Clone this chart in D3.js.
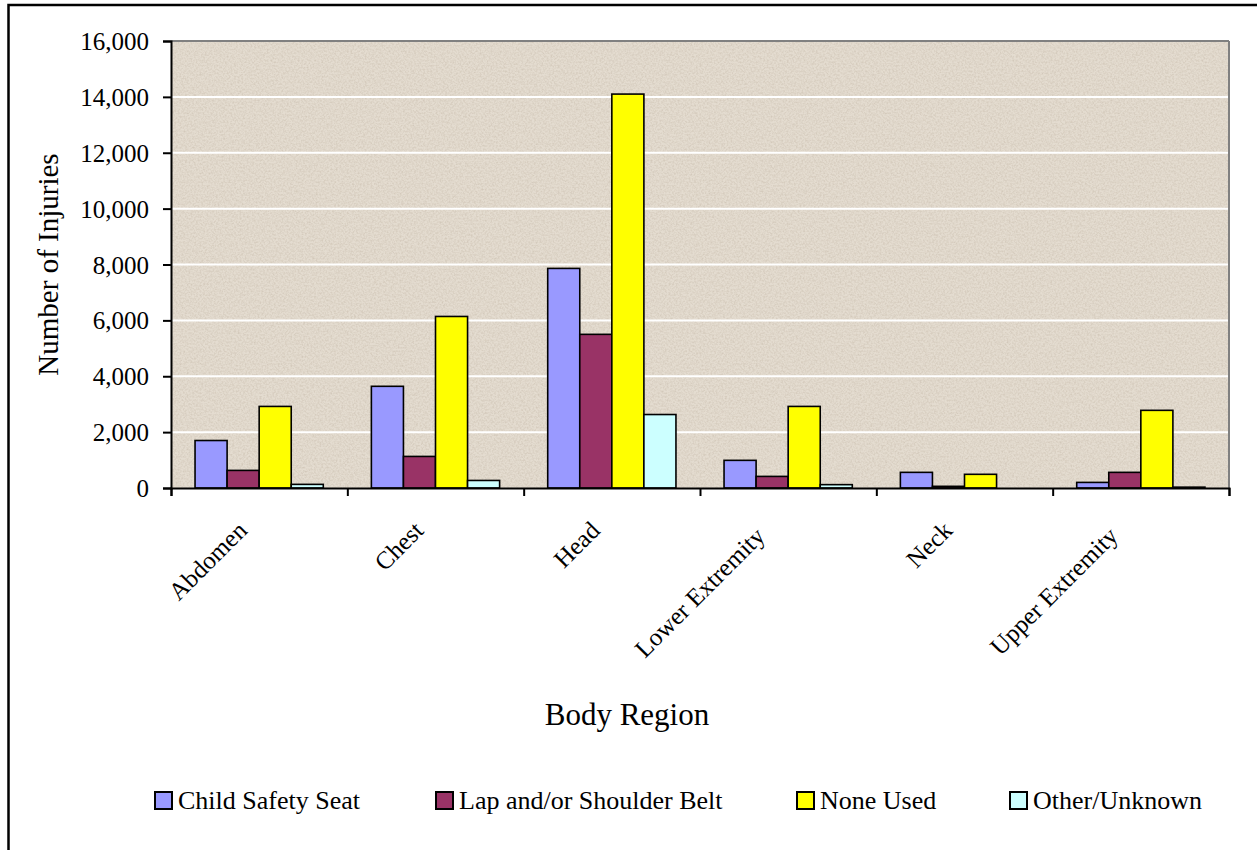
<!DOCTYPE html>
<html lang="en">
<head>
    <meta charset="UTF-8">
    <title>Injuries by Body Region</title>

    <script src="https://d3js.org/d3.v7.min.js"></script>

    <style>
        body {
            margin: 0;
            background: #fff;
        }

        svg text {
            font-family: "Liberation Serif", "Times New Roman", serif;
            fill: #000;
        }
    </style>

    <script>

        const CATEGORIES = ["Abdomen", "Chest", "Head", "Lower Extremity", "Neck", "Upper Extremity"];
        const SERIES = ["Child Safety Seat", "Lap and/or Shoulder Belt", "None Used", "Other/Unknown"];

        const CHILD_SEAT = [1700, 3640, 7860, 990, 560, 200];
        const LAP_BELT = [630, 1130, 5500, 415, 60, 560];
        const NONE_USED = [2920, 6140, 14100, 2920, 490, 2780];
        const OTHER_UNKNOWN = [130, 270, 2630, 120, 0, 30];

        const Y_TICKS = [0, 2000, 4000, 6000, 8000, 10000, 12000, 14000, 16000];

        const COLORS = ["#9999ff", "#993366", "#ffff00", "#ccffff"];

        document.addEventListener("DOMContentLoaded", () => makeGraph());

        function makeGraph() {

            const width = 1257;
            const height = 850;

            const plot = {left: 171, right: 1229, top: 41, bottom: 488};

            const values = [CHILD_SEAT, LAP_BELT, NONE_USED, OTHER_UNKNOWN];

            const svg = d3.select("svg")
                .attr("width", width)
                .attr("height", height);

            // outer chart border (right and bottom are cut off in the original)
            svg.append("rect")
                .attr("x", 8.5).attr("y", 5)
                .attr("width", width + 20).attr("height", height + 20)
                .attr("fill", "none")
                .attr("stroke", "#000")
                .attr("stroke-width", 2.5);

            // textured plot background
            const defs = svg.append("defs");
            const filter = defs.append("filter").attr("id", "grain")
                .attr("x", 0).attr("y", 0).attr("width", 1).attr("height", 1);
            filter.append("feTurbulence")
                .attr("type", "fractalNoise")
                .attr("baseFrequency", 0.55)
                .attr("numOctaves", 3)
                .attr("seed", 7);
            filter.append("feColorMatrix")
                .attr("type", "matrix")
                .attr("values", "0 0 0 0 0.6  0 0 0 0 0.53  0 0 0 0 0.44  2 0 0 0 -0.72");
            filter.append("feComposite").attr("in2", "SourceGraphic").attr("operator", "in");

            svg.append("rect")
                .attr("x", plot.left).attr("y", plot.top)
                .attr("width", plot.right - plot.left)
                .attr("height", plot.bottom - plot.top)
                .attr("fill", "#e4dcd0");

            svg.append("rect")
                .attr("x", plot.left).attr("y", plot.top)
                .attr("width", plot.right - plot.left)
                .attr("height", plot.bottom - plot.top)
                .attr("fill", "#fff")
                .attr("opacity", 0.65)
                .attr("filter", "url(#grain)");

            const y = d3.scaleLinear().domain([0, 16000]).range([plot.bottom, plot.top]);

            const x0 = d3.scaleBand().domain(CATEGORIES).range([plot.left, plot.right]);
            const bw = x0.bandwidth();
            const gap = bw * 1.5 / 5.5;
            const x1 = d3.scaleBand().domain(d3.range(SERIES.length)).range([gap / 2, bw - gap / 2]);

            // gridlines
            svg.append("g")
                .selectAll("line")
                .data(Y_TICKS.filter(d => d > 0))
                .join("line")
                .attr("x1", plot.left).attr("x2", plot.right)
                .attr("y1", d => y(d)).attr("y2", d => y(d))
                .attr("stroke", d => d === 16000 ? "#808080" : "#fff")
                .attr("stroke-width", 2);

            // right border of plot
            svg.append("line")
                .attr("x1", plot.right).attr("x2", plot.right)
                .attr("y1", plot.top).attr("y2", plot.bottom)
                .attr("stroke", "#808080")
                .attr("stroke-width", 2);

            // bars
            const groups = svg.append("g")
                .selectAll("g")
                .data(CATEGORIES)
                .join("g")
                .attr("transform", d => "translate(" + x0(d) + ",0)");

            groups.selectAll("rect")
                .data((d, i) => values.map((arr, s) => ({s: s, v: arr[i]})))
                .join("rect")
                .attr("x", d => x1(d.s))
                .attr("width", x1.bandwidth())
                .attr("y", d => y(d.v))
                .attr("height", d => y(0) - y(d.v))
                .attr("fill", d => COLORS[d.s])
                .attr("stroke", "#000")
                .attr("stroke-width", 1.6);

            // y axis
            const yAxis = svg.append("g")
                .attr("transform", "translate(" + plot.left + ",0)")
                .call(d3.axisLeft(y).tickValues(Y_TICKS).tickFormat(d3.format(",")).tickSize(8).tickPadding(14));
            yAxis.select(".domain").attr("stroke", "#000").attr("stroke-width", 2);
            yAxis.selectAll(".tick line").attr("stroke", "#000").attr("stroke-width", 2);
            yAxis.selectAll("text").style("font-size", "25px").attr("dy", "0.34em");

            // x axis: ticks at category boundaries
            const xb = d3.scaleLinear().domain([0, CATEGORIES.length]).range([plot.left, plot.right]);
            const xAxis = svg.append("g")
                .attr("transform", "translate(0," + plot.bottom + ")")
                .call(d3.axisBottom(xb).tickValues(d3.range(CATEGORIES.length + 1)).tickFormat("").tickSize(8));
            xAxis.select(".domain").attr("stroke", "#000").attr("stroke-width", 2);
            xAxis.selectAll(".tick line").attr("stroke", "#000").attr("stroke-width", 2);

            // rotated category labels; longer labels sit a little further down-left
            svg.append("g")
                .selectAll("text")
                .data(CATEGORIES)
                .join("text")
                .style("text-anchor", "end")
                .style("font-size", "25px")
                .text(d => d)
                .attr("transform", function(d) {
                    const extra = Math.max(0, this.getComputedTextLength() - 99);
                    const ax = x0(d) + bw / 2 - 10.6 - extra * 0.155;
                    const ay = plot.bottom + 44 + extra * 0.078;
                    return "translate(" + ax + "," + ay + ") rotate(-45)";
                });

            // axis titles
            svg.append("text")
                .attr("transform", "translate(58," + ((plot.top + plot.bottom) / 2) + ") rotate(-90)")
                .style("text-anchor", "middle")
                .style("font-size", "29px")
                .text("Number of Injuries");

            svg.append("text")
                .attr("x", 627)
                .attr("y", 725)
                .style("text-anchor", "middle")
                .style("font-size", "31px")
                .text("Body Region");

            // legend
            const legendX = [154, 435, 796, 1009];
            const legend = svg.append("g")
                .selectAll("g")
                .data(SERIES)
                .join("g")
                .attr("transform", (d, i) => "translate(" + legendX[i] + ",791)");

            legend.append("rect")
                .attr("x", 1).attr("y", 1)
                .attr("width", 17).attr("height", 17)
                .attr("fill", (d, i) => COLORS[i])
                .attr("stroke", "#000")
                .attr("stroke-width", 2);

            legend.append("text")
                .attr("x", 24)
                .attr("y", 18)
                .style("font-size", "26px")
                .text(d => d);

        }

    </script>

</head>
<body>
        <svg id="graph"></svg>
</body>
</html>
